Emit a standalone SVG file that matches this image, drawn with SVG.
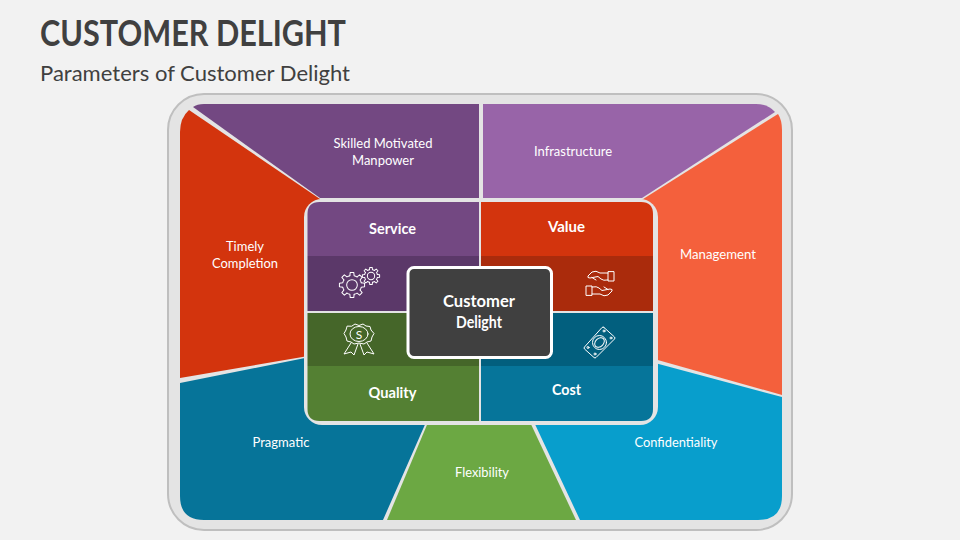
<svg xmlns="http://www.w3.org/2000/svg" xmlns:xlink="http://www.w3.org/1999/xlink" width="960" height="540" viewBox="0 0 960 540">
<style>
text{font-family:Lato,"Open Sans","Liberation Sans",sans-serif;fill:#fff;text-anchor:middle}
.lab{font-size:13px}
.hd{font-size:15.500px;font-weight:700}
.ic{fill:none;stroke:#fff;stroke-width:1;stroke-linejoin:round;stroke-linecap:round}
.ttl{fill:#404040;text-anchor:start}
</style>
<defs>
<g id="gear">
<path id="tooth" d="M7.31-1.69L9.9-1.39V1.39L7.31 1.69A7.5 7.5 0 0 1 6.36 3.97"/>
<use xlink:href="#tooth" href="#tooth" transform="rotate(45)"/>
<use xlink:href="#tooth" href="#tooth" transform="rotate(90)"/>
<use xlink:href="#tooth" href="#tooth" transform="rotate(135)"/>
<use xlink:href="#tooth" href="#tooth" transform="rotate(180)"/>
<use xlink:href="#tooth" href="#tooth" transform="rotate(225)"/>
<use xlink:href="#tooth" href="#tooth" transform="rotate(270)"/>
<use xlink:href="#tooth" href="#tooth" transform="rotate(315)"/>
<circle r="4.2"/>
</g>
<path id="hand" d="M614 272V281H608V272ZM608 273H600Q596 270 592 272L588 276Q587 278 590 278L598 276.500L601 279Q603 281 608 280M592 277.500L596 280"/>
</defs>
<rect width="960" height="540" fill="#f2f2f2"/>
<text class="ttl" x="40" y="46" font-size="36" font-weight="700" textLength="306" lengthAdjust="spacingAndGlyphs">CUSTOMER DELIGHT</text>
<text class="ttl" x="40" y="81" font-size="21.500" textLength="310" lengthAdjust="spacingAndGlyphs">Parameters of Customer Delight</text>
<rect id="frame" x="168" y="94" width="624" height="436" rx="36" fill="#e4e4e4" stroke="#bfbfbf" stroke-width="2"/>
<g id="skilled-motivated-manpower">
<path d="M193 107Q197 104 204 104H479V198H320Z" fill="#734882"/>
<text class="lab" x="383" y="148" textLength="99" lengthAdjust="spacingAndGlyphs">Skilled Motivated</text>
<text class="lab" x="383" y="165" textLength="62" lengthAdjust="spacingAndGlyphs">Manpower</text>
</g>
<g id="infrastructure">
<path d="M483 104H756Q768 104 775 112L642 198H483Z" fill="#9864a8"/>
<text class="lab" x="573" y="156" textLength="78" lengthAdjust="spacingAndGlyphs">Infrastructure</text>
</g>
<g id="timely-completion">
<path d="M189 110L320 199V354L180 378V132Q180 118 189 110Z" fill="#d3340d"/>
<text class="lab" x="245" y="251" textLength="38" lengthAdjust="spacingAndGlyphs">Timely</text>
<text class="lab" x="245" y="268" textLength="66" lengthAdjust="spacingAndGlyphs">Completion</text>
</g>
<g id="management">
<path d="M778 114Q782 120 782 130V395L640 355V201Z" fill="#f4603c"/>
<text class="lab" x="718" y="259" textLength="76" lengthAdjust="spacingAndGlyphs">Management</text>
</g>
<g id="pragmatic">
<path d="M180 383L320 355V420H427L383 520H204Q180 520 180 496Z" fill="#067499"/>
<text class="lab" x="281" y="447" textLength="57" lengthAdjust="spacingAndGlyphs">Pragmatic</text>
</g>
<g id="flexibility">
<path d="M429 420H529L576 520H387Z" fill="#6ca843"/>
<text class="lab" x="482" y="477" textLength="54" lengthAdjust="spacingAndGlyphs">Flexibility</text>
</g>
<g id="confidentiality">
<path d="M640 359L782 397V496Q782 520 758 520H580L533 420H640Z" fill="#089ecc"/>
<text class="lab" x="676" y="447" textLength="83" lengthAdjust="spacingAndGlyphs">Confidentiality</text>
</g>
<rect id="panel" x="304" y="199" width="354" height="226" rx="18" fill="#e4e4e4"/>
<g id="service">
<path d="M307.500 256V214Q307.500 202 319.500 202H479V256Z" fill="#734882"/>
<path d="M307.500 256H479V311H307.500Z" fill="#5b3869"/>
<text class="hd" x="392.500" y="234" textLength="47" lengthAdjust="spacingAndGlyphs">Service</text>
<use href="#gear" class="ic" transform="translate(352 285) scale(1.27)" style="stroke-width:.8"/>
<use href="#gear" class="ic" transform="translate(371 276) scale(.87)" style="stroke-width:1.15"/>
</g>
<g id="value">
<path d="M481 202H641Q653 202 653 214V256H481Z" fill="#d3340d"/>
<path d="M481 256H653V311H481Z" fill="#aa2b0c"/>
<text class="hd" x="566.500" y="232" textLength="37" lengthAdjust="spacingAndGlyphs">Value</text>
<use href="#hand" class="ic"/>
<use href="#hand" class="ic" transform="rotate(180 600 283.500)"/>
</g>
<g id="quality">
<path d="M307.500 313H479V366H307.500Z" fill="#456629"/>
<path d="M307.500 366H479V421H319.500Q307.500 421 307.500 409Z" fill="#548033"/>
<text class="hd" x="392.500" y="398" textLength="48" lengthAdjust="spacingAndGlyphs">Quality</text>
<path class="ic" d="M352 326L355 324L359 325.500L363 324L366 326L370 326.500L371 330L374 333.500L372 337L371 341L367 342L364 344L359 343L354 344L351 342L347 341L346 337L344 333.500L346 330L347 326.500Z"/>
<ellipse class="ic" cx="359" cy="334" rx="9" ry="7.500"/>
<path class="ic" d="M351 343L344 354L351 352L354 355L358 344M360 344L364 355L367 352L374 354L367 343"/>
<text x="359" y="339" font-size="12" font-family="Liberation Sans">S</text>
</g>
<g id="cost">
<path d="M481 313H653V366H481Z" fill="#025f7e"/>
<path d="M481 366H653V409Q653 421 641 421H481Z" fill="#06759a"/>
<text class="hd" x="566.500" y="395" textLength="29" lengthAdjust="spacingAndGlyphs">Cost</text>
<g class="ic">
<path d="M604 327.500L614.500 337Q615.500 338 614.500 339L596 357.500Q595 358.500 594 357.500L584.500 349Q583.500 348 584.500 347L602 327.500Q603 326.500 604 327.500Z"/>
<circle cx="599.500" cy="342.500" r="7"/>
<ellipse cx="599.500" cy="342.500" rx="4" ry="5.500" transform="rotate(45 599.500 342.500)"/>
<circle cx="604" cy="331" r="1"/>
<circle cx="611" cy="338" r="1"/>
<circle cx="595" cy="354" r="1"/>
<circle cx="588" cy="347.500" r="1"/>
</g>
</g>
<g id="customer-delight">
<rect x="408" y="267.500" width="143.500" height="90" rx="6" fill="#404040" stroke="#fff" stroke-width="3"/>
<text x="479" y="307" font-size="17" font-weight="700" textLength="72" lengthAdjust="spacingAndGlyphs">Customer</text>
<text x="479" y="328" font-size="17" font-weight="700" textLength="46" lengthAdjust="spacingAndGlyphs">Delight</text>
</g>
</svg>
